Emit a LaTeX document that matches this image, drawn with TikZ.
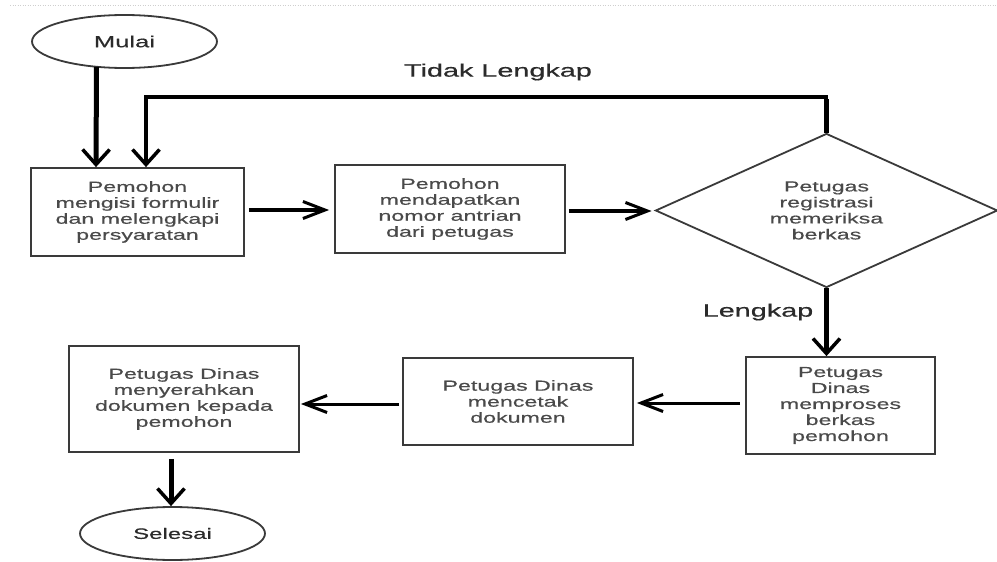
\documentclass[tikz,border=0pt]{standalone}
\usepackage{fontspec}
\setmainfont{Liberation Sans}
\newfontfamily\wide[FakeStretch=1.6,FakeBold=0.5]{Liberation Sans}
\usetikzlibrary{arrows.meta,shapes.geometric}
\definecolor{txt}{HTML}{4A4A4A}
\definecolor{lbl}{HTML}{2B2B2B}
\definecolor{frame}{HTML}{3A3A3A}
\definecolor{dots}{HTML}{CFCFCF}
\tikzset{
  procbox/.style={draw=frame, line width=1.8pt, inner sep=0pt, fill=white,
    font=\wide\fontsize{14.5}{16}\selectfont, text=txt, align=center},
  termnode/.style={ellipse, draw=frame, line width=1.8pt, inner sep=0pt,
    minimum width=185pt, minimum height=53pt, text=lbl},
  decnode/.style={diamond, draw=frame, line width=1.8pt, inner sep=0pt, aspect=2.22,
    minimum width=342pt, minimum height=154pt,
    font=\wide\fontsize{14.5}{16}\selectfont, text=txt, align=center},
  lbltext/.style={font=\wide\fontsize{18}{20}\selectfont, text=lbl},
  harrow/.style={line width=3.5pt, -{Straight Barb[length=22pt,width=17pt,line width=3pt]}},
  varrow/.style={line width=5pt, -{Straight Barb[length=15pt,width=27pt,line width=3.5pt]}},
}
\begin{document}
\begin{tikzpicture}[x=1pt,y=-1pt]
\useasboundingbox[fill=white] (0,0) rectangle (997,562);
\draw[dots, line width=0.8pt, dash pattern=on 1pt off 1.5pt] (10,5) -- (997,5);

% nodes
\node[termnode, font=\wide\fontsize{16}{18}\selectfont] (mulai) at (124.5,41.5) {Mulai};
\node[procbox, minimum width=213pt, minimum height=88pt] (b1) at (137.5,212)
  {Pemohon\\mengisi formulir\\dan melengkapi\\persyaratan};
\node[procbox, minimum width=230pt, minimum height=88pt] (b2) at (450,209)
  {Pemohon\\mendapatkan\\nomor antrian\\dari petugas};
\node[decnode] (dia) at (826.5,210.5) {Petugas\\registrasi\\memeriksa\\berkas};
\node[procbox, minimum width=189pt, minimum height=97pt] (b3) at (840.5,405.5)
  {Petugas\\Dinas\\memproses\\berkas\\pemohon};
\node[procbox, minimum width=230pt, minimum height=87pt] (b4) at (518,401.5)
  {Petugas Dinas\\mencetak\\dokumen};
\node[procbox, minimum width=230pt, minimum height=106pt] (b5) at (184,399)
  {Petugas Dinas\\menyerahkan\\dokumen kepada\\pemohon};
\node[termnode, font=\wide\fontsize{15}{17}\selectfont] (selesai) at (172.5,533.5) {Selesai};

\node[lbltext] (tl) at (498,72) {Tidak Lengkap};
\node[lbltext] (lk) at (758,312) {Lengkap};

% connectors
\draw[varrow] ([xshift=-28pt,yshift=2pt]mulai.south) -- ([xshift=-41.5pt]b1.north);
\draw[line width=5.5pt] (dia.north) -- ([yshift=-2pt]dia.north |- 0,97);
\draw[varrow, line width=3.8pt] ([xshift=1pt]dia.north |- 0,97) -| ([xshift=8.5pt]b1.north);
\draw[harrow, shorten <=4pt, shorten >=5pt] (b1.east |- 0,210) -- (b2.west |- 0,210);
\draw[harrow, shorten <=3pt, shorten >=3pt] (b2.east |- 0,211) -- (dia.west |- 0,211);
\draw[varrow, line width=4.5pt] (dia.south) -- (dia.south |- b3.north);
\draw[harrow, line width=3pt, shorten <=5pt, shorten >=3pt] (b3.west |- 0,403) -- (b4.east |- 0,403);
\draw[harrow, line width=3pt, shorten <=3pt, shorten >=1pt] (b4.west |- 0,404) -- (b5.east |- 0,404);
\draw[varrow] ([xshift=-13pt,yshift=-6pt]b5.south) -- ([xshift=-1.5pt]selesai.north);
\end{tikzpicture}
\end{document}
